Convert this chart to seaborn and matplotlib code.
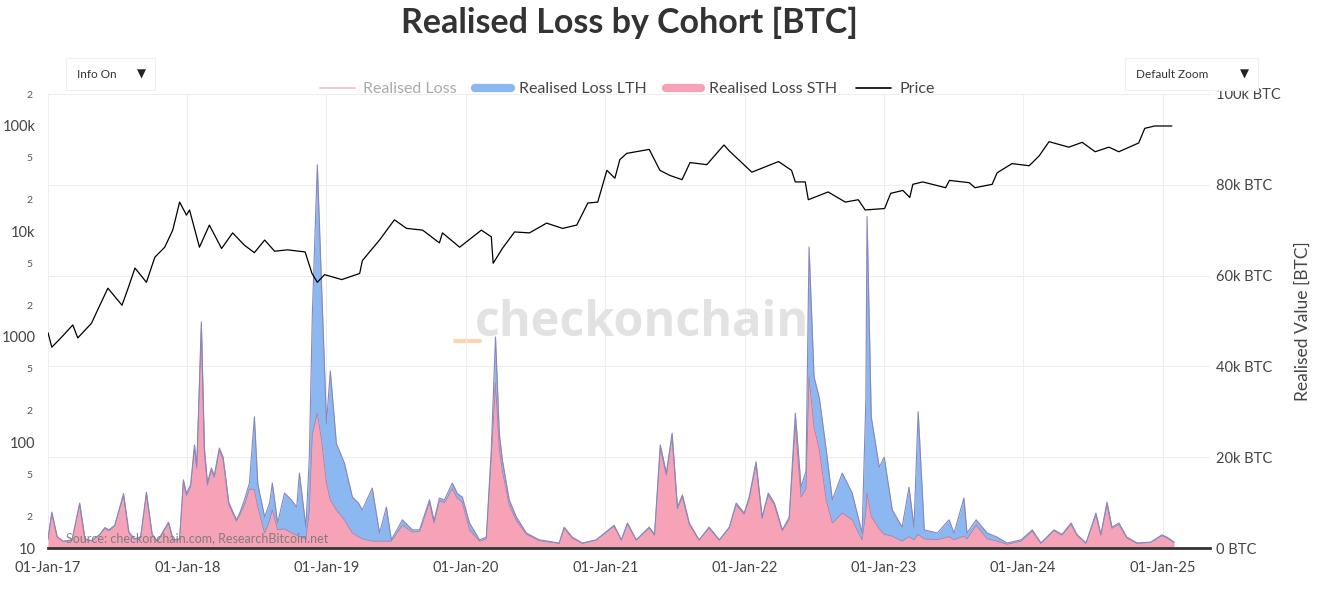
import pandas as pd
import numpy as np
import matplotlib
matplotlib.use("Agg")
import matplotlib.pyplot as plt
import matplotlib.dates as mdates
import matplotlib.ticker as mticker
from matplotlib.lines import Line2D
from matplotlib.patches import Rectangle
import seaborn as sns

# realised loss, thousands of BTC (total and short term holders)
loss_dates = [
    "2017-01-01", "2017-01-11", "2017-01-25", "2017-02-10", "2017-03-05", "2017-03-25", "2017-04-08",
    "2017-04-25", "2017-05-17", "2017-05-30", "2017-06-10", "2017-06-25", "2017-07-18", "2017-08-01",
    "2017-08-16", "2017-09-01", "2017-09-16", "2017-10-01", "2017-10-15", "2017-11-13", "2017-11-25",
    "2017-12-12", "2017-12-22", "2017-12-30", "2018-01-10", "2018-01-20", "2018-01-26", "2018-02-07",
    "2018-02-15", "2018-02-23", "2018-03-05", "2018-03-13", "2018-03-26", "2018-04-05", "2018-04-20",
    "2018-05-10", "2018-05-20", "2018-05-31", "2018-06-13", "2018-06-26", "2018-07-05", "2018-07-23",
    "2018-08-05", "2018-08-12", "2018-08-26", "2018-09-13", "2018-10-01", "2018-10-15", "2018-10-22",
    "2018-11-08", "2018-11-17", "2018-11-25", "2018-12-08", "2018-12-19", "2019-01-01", "2019-01-11",
    "2019-01-27", "2019-02-17", "2019-03-10", "2019-03-25", "2019-04-05", "2019-05-01", "2019-05-20",
    "2019-06-07", "2019-06-20", "2019-07-19", "2019-08-14", "2019-09-02", "2019-09-28", "2019-10-10",
    "2019-10-24", "2019-11-06", "2019-11-27", "2019-12-10", "2019-12-23", "2020-01-11", "2020-02-06",
    "2020-02-24", "2020-03-08", "2020-03-19", "2020-03-29", "2020-04-06", "2020-04-24", "2020-05-13",
    "2020-06-08", "2020-07-12", "2020-09-02", "2020-09-15", "2020-10-06", "2020-11-02", "2020-12-08",
    "2021-01-24", "2021-02-12", "2021-02-28", "2021-03-23", "2021-04-26", "2021-05-10", "2021-05-25",
    "2021-06-10", "2021-06-25", "2021-07-09", "2021-07-22", "2021-08-09", "2021-09-04", "2021-09-30",
    "2021-10-27", "2021-11-22", "2021-12-10", "2021-12-31", "2022-01-13", "2022-01-31", "2022-02-16",
    "2022-03-04", "2022-03-20", "2022-04-10", "2022-04-28", "2022-05-14", "2022-05-29", "2022-06-11",
    "2022-06-19", "2022-07-02", "2022-07-16", "2022-08-03", "2022-08-19", "2022-09-14", "2022-10-10",
    "2022-11-05", "2022-11-15", "2022-11-18", "2022-11-29", "2022-12-20", "2023-01-02", "2023-01-23",
    "2023-02-18", "2023-03-08", "2023-03-21", "2023-04-01", "2023-04-17", "2023-05-21", "2023-06-21",
    "2023-07-04", "2023-07-30", "2023-08-07", "2023-08-31", "2023-09-29", "2023-10-25", "2023-11-20",
    "2023-12-27", "2024-01-25", "2024-02-17", "2024-03-22", "2024-04-12", "2024-05-06", "2024-05-21",
    "2024-06-14", "2024-07-10", "2024-07-23", "2024-08-08", "2024-08-21", "2024-09-08", "2024-09-29",
    "2024-10-26", "2024-12-01", "2024-12-30", "2025-01-12", "2025-01-31",
]
loss_total = [
    2.0, 7.9, 2.5, 1.5, 1.8, 9.9, 2.0,
    1.6, 3.0, 4.5, 4.0, 5.0, 12.0, 3.5,
    2.0, 2.5, 12.3, 3.0, 1.5, 5.7, 1.8,
    2.0, 15.0, 12.0, 14.0, 22.7, 18.0, 49.8,
    22.0, 14.3, 17.6, 16.0, 22.0, 20.0, 10.0,
    6.2, 8.0, 10.6, 14.3, 28.9, 14.0, 6.8,
    10.0, 14.3, 5.5, 12.1, 10.6, 9.0, 16.5,
    4.6, 20.0, 51.7, 84.4, 58.0, 27.5, 39.0,
    23.0, 18.7, 11.2, 10.0, 8.4, 13.2, 3.3,
    9.0, 1.8, 6.2, 4.0, 4.0, 10.6, 6.0,
    11.0, 10.6, 14.3, 12.0, 11.2, 5.5, 1.8,
    2.4, 21.6, 46.5, 25.3, 19.4, 10.6, 6.8,
    3.3, 1.8, 1.1, 4.6, 2.4, 1.1, 1.8,
    5.0, 1.8, 5.5, 1.8, 4.6, 3.0, 22.7,
    16.5, 25.3, 9.0, 11.7, 5.5, 1.8, 4.6,
    1.8, 4.6, 9.9, 7.7, 11.2, 19.0, 6.8,
    12.1, 9.9, 4.0, 6.8, 29.7, 13.4, 17.0,
    66.3, 37.7, 33.0, 21.6, 10.6, 16.5, 12.1,
    3.3, 33.0, 73.0, 28.9, 17.8, 20.0, 8.4,
    4.6, 13.4, 4.6, 30.0, 4.0, 3.3, 6.2,
    3.3, 11.0, 3.3, 6.2, 3.3, 2.4, 1.1,
    1.8, 4.0, 1.1, 4.0, 3.0, 5.5, 3.0,
    1.1, 7.7, 3.0, 10.1, 4.6, 5.5, 2.4,
    1.1, 1.3, 2.9, 2.4, 1.3,
]
loss_sth = [
    1.9, 7.6, 2.4, 1.4, 1.7, 9.5, 1.9,
    1.5, 2.9, 4.3, 3.8, 4.8, 11.5, 3.3,
    1.9, 2.4, 11.8, 2.9, 1.4, 5.4, 1.7,
    1.9, 14.5, 11.5, 13.5, 22.0, 17.5, 48.5,
    21.0, 13.8, 17.0, 15.5, 21.5, 19.5, 9.5,
    5.9, 7.5, 9.5, 13.0, 12.8, 9.0, 3.3,
    6.0, 8.4, 4.0, 4.2, 3.3, 2.8, 2.6,
    2.0, 8.0, 25.0, 29.7, 23.8, 14.3, 10.6,
    8.4, 6.2, 3.3, 2.5, 2.0, 1.5, 1.5,
    1.5, 1.5, 5.0, 3.5, 3.6, 10.0, 5.5,
    10.4, 10.0, 13.0, 11.0, 10.0, 4.0, 1.5,
    2.0, 20.0, 36.3, 22.0, 17.0, 9.5, 6.0,
    3.0, 1.6, 1.0, 4.4, 2.2, 1.0, 1.7,
    4.8, 1.7, 5.3, 1.7, 4.4, 2.8, 22.0,
    16.0, 24.5, 8.6, 11.2, 5.2, 1.7, 4.4,
    1.7, 4.4, 9.5, 7.4, 10.8, 18.3, 6.5,
    11.6, 9.5, 3.8, 6.3, 27.0, 11.2, 13.0,
    37.7, 26.7, 21.6, 10.6, 5.5, 7.7, 6.2,
    1.8, 8.0, 12.1, 7.0, 4.2, 3.0, 2.6,
    1.5, 2.5, 1.8, 3.0, 2.0, 1.8, 2.5,
    1.8, 2.6, 2.0, 5.0, 2.0, 1.5, 0.8,
    1.5, 3.7, 1.0, 3.8, 2.8, 5.2, 2.8,
    1.0, 7.2, 2.8, 9.5, 4.3, 5.2, 2.2,
    1.0, 1.2, 2.7, 2.2, 1.2,
]

price_dates = [
    "2017-01-01", "2017-01-11", "2017-02-06", "2017-03-07", "2017-03-20", "2017-04-25", "2017-05-11",
    "2017-06-07", "2017-07-14", "2017-07-30", "2017-08-17", "2017-09-16", "2017-10-08", "2017-11-03",
    "2017-11-24", "2017-12-12", "2017-12-30", "2018-01-07", "2018-02-02", "2018-02-28", "2018-04-01",
    "2018-04-30", "2018-05-31", "2018-06-26", "2018-07-23", "2018-08-18", "2018-09-21", "2018-11-06",
    "2018-11-24", "2018-12-08", "2018-12-27", "2019-02-10", "2019-03-29", "2019-04-05", "2019-05-20",
    "2019-06-28", "2019-07-30", "2019-09-10", "2019-10-24", "2019-11-01", "2019-12-16", "2020-02-11",
    "2020-03-08", "2020-03-13", "2020-04-06", "2020-05-08", "2020-06-16", "2020-07-31", "2020-09-11",
    "2020-10-18", "2020-11-16", "2020-12-12", "2021-01-05", "2021-01-26", "2021-02-08", "2021-02-26",
    "2021-04-26", "2021-05-24", "2021-06-19", "2021-07-21", "2021-08-11", "2021-09-24", "2021-10-27",
    "2021-11-08", "2021-11-22", "2022-01-20", "2022-03-31", "2022-05-04", "2022-05-14", "2022-06-09",
    "2022-06-17", "2022-08-08", "2022-09-22", "2022-10-26", "2022-11-13", "2023-01-03", "2023-01-19",
    "2023-02-20", "2023-03-10", "2023-03-18", "2023-04-13", "2023-06-12", "2023-06-22", "2023-08-13",
    "2023-08-28", "2023-10-12", "2023-10-25", "2023-12-03", "2024-01-17", "2024-02-12", "2024-03-09",
    "2024-04-30", "2024-06-04", "2024-07-08", "2024-08-13", "2024-09-08", "2024-10-30", "2024-11-15",
    "2024-12-11", "2025-01-25",
]
price_usd = [
    1100, 800, 1000, 1300, 980, 1350, 1800,
    2900, 2000, 2900, 4500, 3300, 5700, 7100,
    10300, 19000, 14300, 16000, 7100, 11500, 6900,
    9700, 7400, 6300, 8300, 6500, 6700, 6400,
    4000, 3300, 3900, 3500, 4000, 5300, 8300,
    12900, 10700, 10300, 7800, 9700, 7100, 10300,
    8900, 5000, 6900, 9900, 9700, 12000, 10700,
    11500, 18600, 19000, 38000, 32000, 48000, 55000,
    60000, 38000, 34000, 31000, 45000, 43000, 59000,
    66000, 58000, 36500, 46000, 38000, 29500, 29500,
    20000, 23700, 19000, 20000, 16000, 16500, 23000,
    24500, 21000, 28000, 29500, 26000, 30500, 29000,
    26000, 28000, 36000, 44000, 42000, 52000, 71000,
    63000, 70000, 57000, 63000, 57000, 69000, 95000,
    100000, 100000,
]

year_ticks = ["2017", "2018", "2019", "2020", "2021", "2022", "2023", "2024", "2025"]

loss = pd.DataFrame({
    "date": pd.to_datetime(loss_dates),
    "total": np.array(loss_total) * 1000,
    "sth": np.array(loss_sth) * 1000,
})
price = pd.DataFrame({"date": pd.to_datetime(price_dates), "price": price_usd})

sns.set_theme(style="white")
plt.rcParams["font.family"] = ["Lato", "DejaVu Sans"]

pink = "#f6a3b7"
blue = "#8cb8f2"
txt = "#444444"
W, H = 1323, 593

fig = plt.figure(figsize=(13.23, 5.93), dpi=100)
ax = fig.add_axes([48 / W, 1 - 548 / H, (1210 - 48) / W, (548 - 94) / H])

# watermark behind everything
fig.text(0.485, 0.455, "checkonchain", fontsize=35, fontweight="bold", color="#e2e2e2",
         ha="center", va="center", family=["Open Sans", "DejaVu Sans"], zorder=0)
fig.add_artist(Line2D([455 / W, 480 / W], [1 - 341 / H, 1 - 341 / H], color="#fbd5b0", lw=3, zorder=0))
ax.patch.set_alpha(0)

ax.fill_between(loss["date"], 0, loss["sth"], color=pink, lw=0, zorder=2)
ax.fill_between(loss["date"], loss["sth"], loss["total"], color=blue, lw=0, zorder=2)
sns.lineplot(data=loss, x="date", y="sth", ax=ax, color="#b084a8", lw=0.7, zorder=3)
sns.lineplot(data=loss, x="date", y="total", ax=ax, color="#8a86b8", lw=0.8, zorder=3)

ax.set_ylim(0, 100000)
ax.set_xlim(pd.Timestamp("2017-01-01"), pd.Timestamp("2025-05-05"))
ax.set_yticks(np.arange(0, 100001, 20000))
ax.set_yticklabels(["0 BTC", "20k BTC", "40k BTC", "60k BTC", "80k BTC", "100k BTC"])
ax.set_xticks(pd.to_datetime([y + "-01-01" for y in year_ticks]))
ax.xaxis.set_major_formatter(mdates.DateFormatter("%d-%b-%y"))
ax.grid(True, color="#eeeeee", lw=0.8)
ax.set_xlabel("")
for s in ["top", "left", "right"]:
    ax.spines[s].set_visible(False)
ax.spines["bottom"].set_color("#333333")
ax.spines["bottom"].set_linewidth(2)

# price on a log axis on the left, drawn above the areas
ax2 = ax.twinx()
sns.lineplot(data=price, x="date", y="price", ax=ax2, color="black", lw=0.9)
ax2.set_yscale("log")
ax2.set_ylim(10, 2.01e5)
ax2.yaxis.tick_left()
ax2.yaxis.set_major_locator(mticker.FixedLocator([10, 100, 1000, 1e4, 1e5]))
ax2.yaxis.set_major_formatter(mticker.FixedFormatter(["10", "100", "1000", "10k", "100k"]))
minor_vals = [m * 10 ** e for e in range(1, 6) for m in (2, 5)]
ax2.yaxis.set_minor_locator(mticker.FixedLocator(minor_vals))
ax2.yaxis.set_minor_formatter(mticker.FixedFormatter(["2", "5"] * 5))
ax2.tick_params(axis="y", which="major", labelsize=10.5, labelcolor=txt, length=0, pad=9)
ax2.tick_params(axis="y", which="minor", labelsize=7.5, labelcolor="#555555", length=0, pad=11)
ax2.set_ylabel("")
ax2.set_xlabel("")
for s in ["top", "left", "right", "bottom"]:
    ax2.spines[s].set_visible(False)

# twinx moved the loss ticks to the left, put them back on the right
ax.yaxis.tick_right()
ax.yaxis.set_label_position("right")
ax.tick_params(axis="y", labelsize=10.5, labelcolor=txt, length=0, pad=4)
ax.tick_params(axis="x", labelsize=10.5, labelcolor=txt, length=0, pad=9)
ax.set_ylabel("Realised Value [BTC]", fontsize=12.5, color=txt, labelpad=10)

fig.text(66 / W, 1 - 538 / H, "Source: checkonchain.com, ResearchBitcoin.net",
         fontsize=9, color="#777777", ha="left", va="center", alpha=0.9, zorder=5)

fig.suptitle("Realised Loss by Cohort [BTC]", x=629 / W, y=1 - 23 / H, va="center",
             fontsize=24.5, fontweight="bold", color="#333333")

handles = [
    Line2D([0], [0], color="#f2bccb", lw=1.2),
    Line2D([0], [0], color=blue, lw=6),
    Line2D([0], [0], color=pink, lw=6),
    Line2D([0], [0], color="black", lw=1.2),
]
labels = ["Realised Loss", "Realised Loss LTH", "Realised Loss STH", "Price"]
leg = fig.legend(handles, labels, loc="center", bbox_to_anchor=(627 / W, 1 - 89 / H),
                 ncol=4, frameon=False, fontsize=11.5, handlelength=2.2, columnspacing=1.2,
                 handletextpad=0.5)
for t, c in zip(leg.get_texts(), ["#aaaaaa", txt, txt, txt]):
    t.set_color(c)

# the two dropdown boxes of the original page
for x0, x1, s in [(66, 155, "Info On"), (1125, 1258, "Default Zoom")]:
    fig.add_artist(Rectangle((x0 / W, 1 - 90 / H), (x1 - x0) / W, 32 / H, fc="white",
                             ec="#f0f0f0", lw=0.8, zorder=4))
    fig.text((x0 + 11) / W, 1 - 74 / H, s, fontsize=8.5, color="#333333", ha="left",
             va="center", zorder=5)
    fig.text((x1 - 14) / W, 1 - 74 / H, "▼", fontsize=8.5, color="#222222", ha="center",
             va="center", family="DejaVu Sans", zorder=5)

fig.savefig("out.png", dpi=100, facecolor="white")
